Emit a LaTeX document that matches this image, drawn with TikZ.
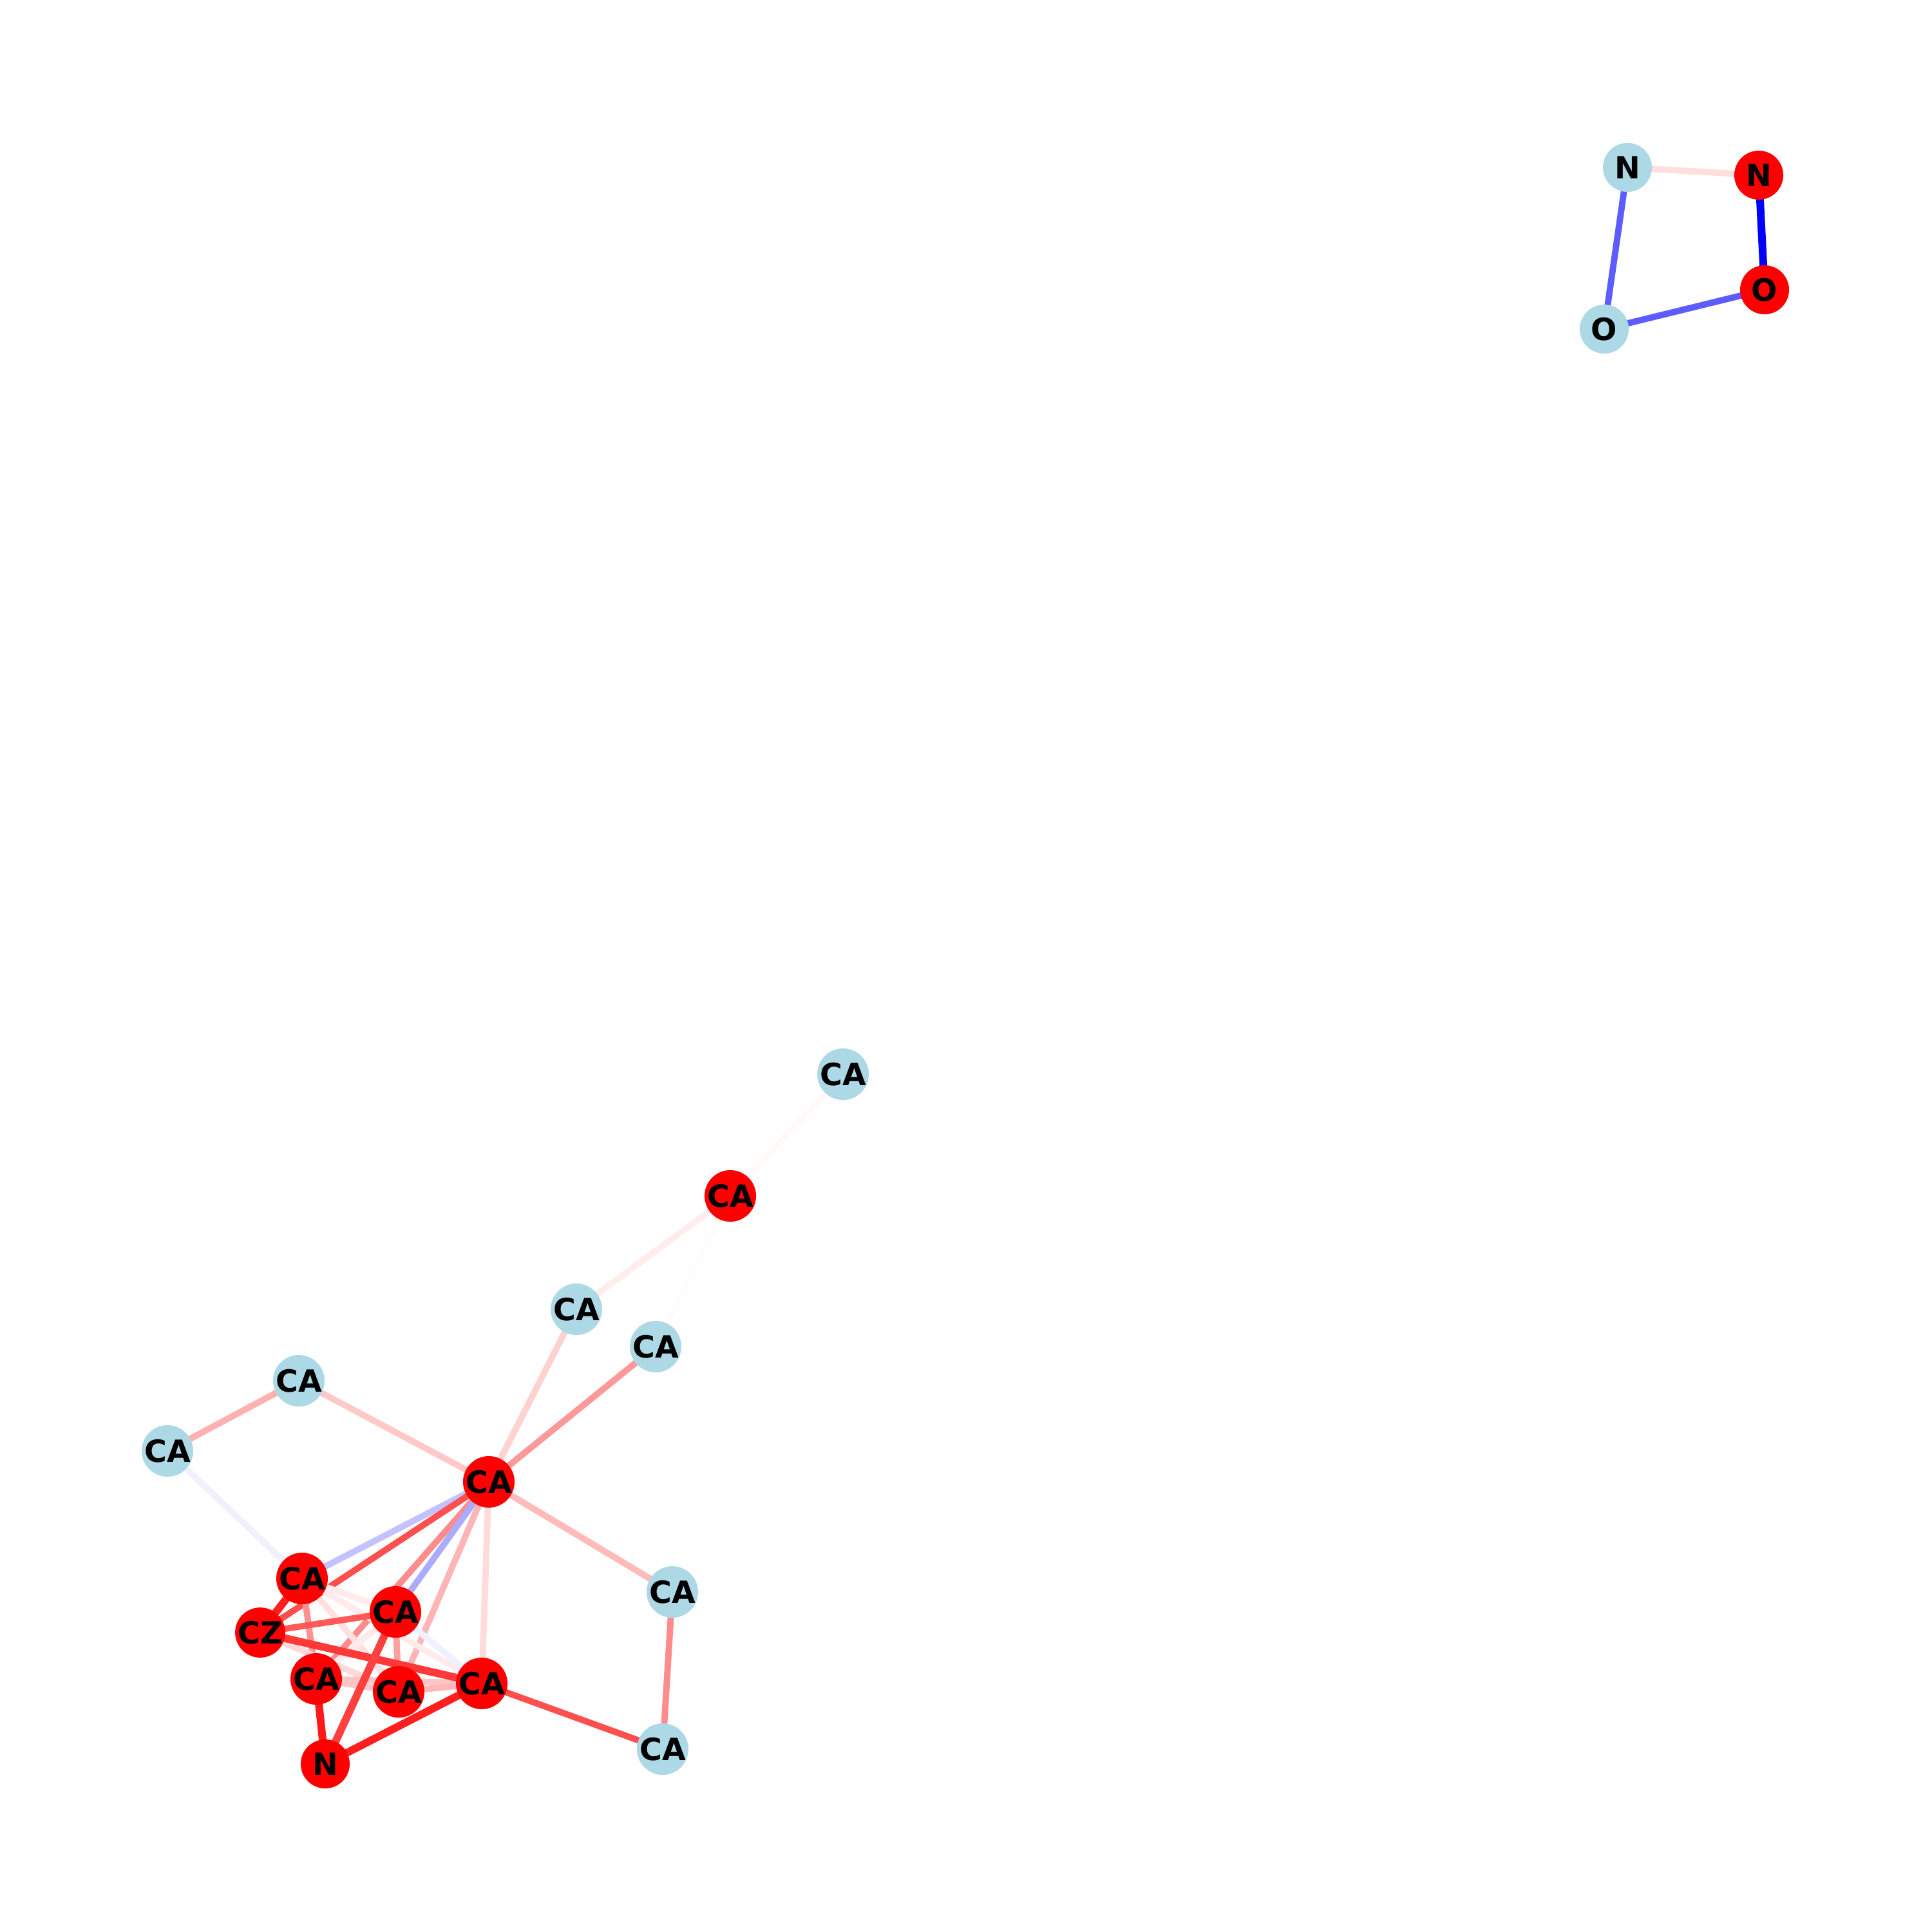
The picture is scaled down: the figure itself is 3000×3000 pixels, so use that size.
\documentclass[tikz,border=0pt]{standalone}
\usepackage{fontspec}
\usetikzlibrary{backgrounds}
\newfontfamily\lblfont{DejaVu Sans}
\definecolor{lb}{HTML}{ADD8E6}
\tikzset{
  atom/.style={circle,inner sep=0pt,minimum size=0.76cm,font=\lblfont\bfseries\fontsize{13.5}{14}\selectfont,text=black},
  redatom/.style={atom,fill=red},
  blueatom/.style={atom,fill=lb},
  bond/.style={line width=2.8pt},
  strongbond/.style={line width=3.4pt}
}
\newcommand{\bondline}[3]{\draw[bond,draw=#3] (#1.center) -- (#2.center);}
\newcommand{\strongline}[3]{\draw[strongbond,draw=#3] (#1.center) -- (#2.center);}
\begin{document}
\begin{tikzpicture}[x=0.01cm,y=-0.01cm]
\useasboundingbox (0,0) rectangle (3000,3000);
% nodes
\node[blueatom] (nl) at (2527,260) {N};
\node[redatom]  (nr) at (2731,272) {N};
\node[redatom]  (or) at (2740,450) {O};
\node[blueatom] (ol) at (2491,511) {O};

\node[blueatom] (a) at (1309,1668) {CA};
\node[redatom]  (b) at (1134,1857) {CA};
\node[blueatom] (c) at (895,2033) {CA};
\node[blueatom] (d) at (1018,2091) {CA};
\node[blueatom] (e) at (464,2144) {CA};
\node[blueatom] (f) at (260,2253) {CA};
\node[redatom]  (h) at (759,2301) {CA};
\node[blueatom] (g) at (1044,2472) {CA};
\node[blueatom] (k) at (1029,2716) {CA};
\node[redatom]  (r1) at (469,2451) {CA};
\node[redatom]  (cz) at (404,2535) {CZ};
\node[redatom]  (r2) at (614,2503) {CA};
\node[redatom]  (r3) at (491,2607) {CA};
\node[redatom]  (r4) at (619,2627) {CA};
\node[redatom]  (r5) at (748,2614) {CA};
\node[redatom]  (n) at (505,2739) {N};

% edges
\begin{scope}[on background layer]
\bondline{nl}{nr}{red!13}
\strongline{nr}{or}{blue}
\bondline{nl}{ol}{blue!64}
\bondline{ol}{or}{blue!64}

\bondline{a}{b}{red!2}
\bondline{b}{d}{red!1}
\bondline{b}{c}{red!7}
\bondline{c}{h}{red!18}
\bondline{d}{h}{red!40}
\bondline{e}{h}{red!21}
\bondline{e}{f}{red!31}
\bondline{f}{r1}{blue!6}
\bondline{h}{g}{red!27}
\bondline{g}{k}{red!45}
\bondline{r5}{k}{red!69}
\bondline{h}{r1}{blue!24}
\bondline{h}{cz}{red!69}
\bondline{h}{r3}{red!45}
\bondline{h}{r2}{blue!33}
\bondline{h}{r4}{red!29}
\bondline{h}{r5}{red!14}
\bondline{r1}{r2}{red!8}
\bondline{r1}{r4}{red!12}
\bondline{r1}{r5}{red!8}
\bondline{r1}{r3}{red!43}
\bondline{r2}{r3}{red!8}
\bondline{r2}{r5}{blue!6}
\bondline{cz}{r4}{red!15}
\bondline{r3}{r4}{red!22}
\bondline{r3}{r5}{red!23}
\bondline{r4}{r5}{red!28}
\bondline{r2}{r4}{red!37}
\bondline{cz}{r2}{red!65}
\strongline{cz}{r5}{red!78}
\strongline{r2}{n}{red!75}
\strongline{r1}{cz}{red!88}
\strongline{r3}{n}{red!90}
\strongline{r5}{n}{red!88}
\end{scope}
\end{tikzpicture}
\end{document}
